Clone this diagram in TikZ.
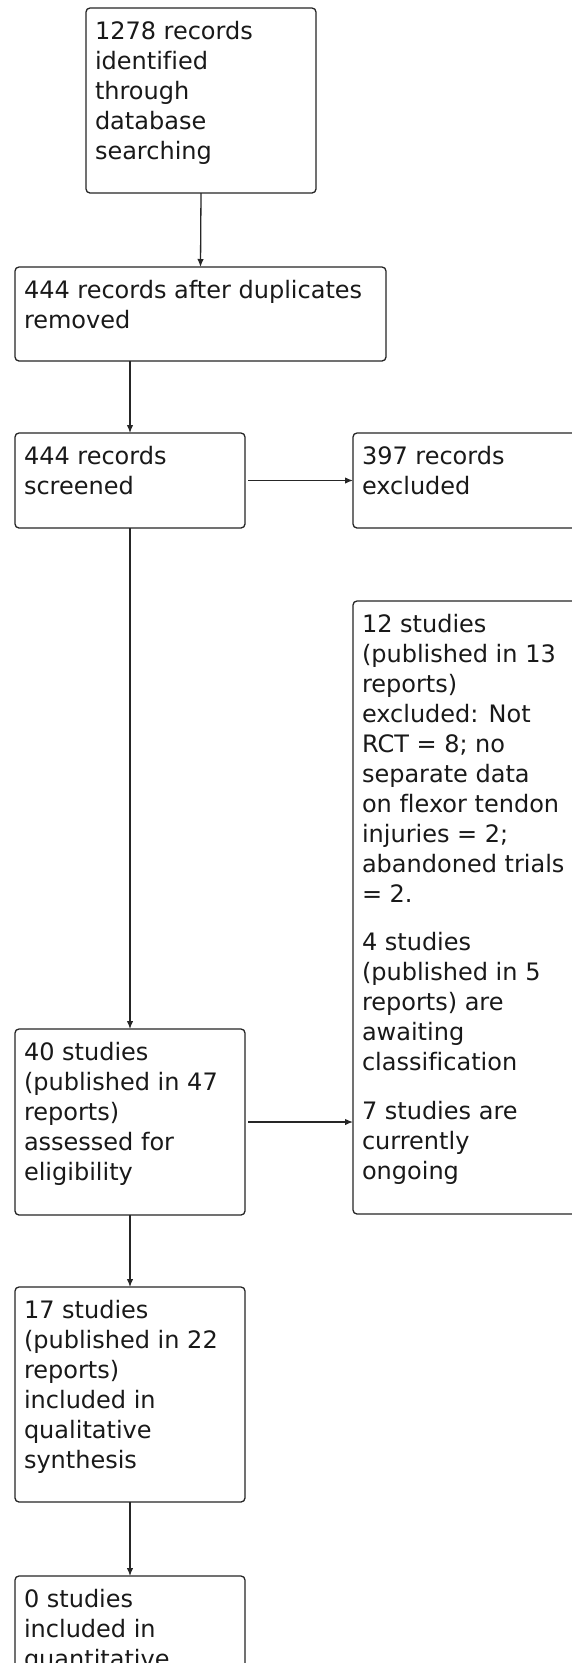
\documentclass[tikz,border=0pt]{standalone}
\usepackage{fontspec}
\setmainfont{DejaVu Sans}[Ligatures={NoCommon}]
\usetikzlibrary{arrows.meta}
\newcommand\boxtxt[3]{\parbox[t][#2pt][t]{#1pt}{\raggedright\strut #3}}
\tikzset{
  flowbox/.style={draw=black!85, line width=1.3pt, rounded corners=4pt, anchor=north west,
    inner xsep=9pt, inner ysep=10pt, outer sep=0pt, fill=white, text=black!90,
    font=\fontsize{24}{30}\selectfont},
  flowarrow/.style={draw=black!85, line width=1.3pt, -{Latex[length=8pt,width=6.5pt]}}
}
\begin{document}
\begin{tikzpicture}[x=1pt, y=-1pt]
\useasboundingbox (0,0) rectangle (572,1663);
\fill[white] (0,0) rectangle (572,1663);
\clip (0,0) rectangle (572,1663);
% boxes: width-18, height-20
\node[flowbox] (b1) at (86,8) {\boxtxt{212}{165}{1278 records\\identified\\through\\database\\searching}};
\node[flowbox] (b2) at (15,267) {\boxtxt{353}{74}{444 records after duplicates\\removed}};
\node[flowbox] (b3) at (15,433) {\boxtxt{212}{75}{444 records\\screened}};
\node[flowbox] (b4) at (353,433) {\boxtxt{262}{75}{397 records\\excluded}};
\node[flowbox] (b8) at (353,601) {\boxtxt{262}{593}{12 studies\\(published in 13\\reports)\\excluded: Not\\RCT = 8; no\\separate data\\on flexor tendon\\injuries = 2;\\abandoned trials\\= 2.\\[18.7pt]4 studies\\(published in 5\\reports) are\\awaiting\\classification\\[18.7pt]7 studies are\\currently\\ongoing}};
\node[flowbox] (b5) at (15,1029) {\boxtxt{212}{166}{40 studies\\(published in 47\\reports)\\assessed for\\eligibility}};
\node[flowbox] (b6) at (15,1287) {\boxtxt{212}{195}{17 studies\\(published in 22\\reports)\\included in\\qualitative\\synthesis}};
\node[flowbox] (b7) at (15,1576) {\boxtxt{212}{180}{0 studies\\included in\\quantitative\\synthesis}};
% connectors
\draw[flowarrow] (b1.south) -- (b2.north);
\draw[flowarrow] (b2.south -| b3.north) -- (b3.north);
\draw[flowarrow, shorten <=3pt] (b3.east) -- (b3.east -| b4.west);
\draw[flowarrow] (b3.south) -- (b5.north);
\draw[flowarrow, shorten <=3pt] (b5.east) -- (b5.east -| b8.west);
\draw[flowarrow] (b5.south) -- (b6.north);
\draw[flowarrow] (b6.south) -- (b7.north);
\end{tikzpicture}
\end{document}
